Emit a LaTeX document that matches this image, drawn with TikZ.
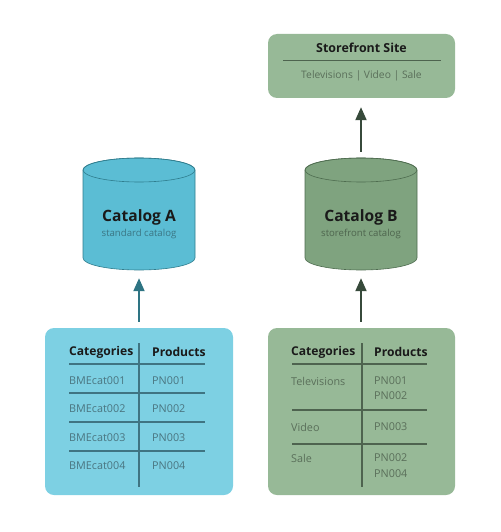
\documentclass[tikz,border=0pt]{standalone}
\usepackage{fontspec}
\setmainfont{Open Sans}
\usetikzlibrary{arrows.meta}
\definecolor{blueTab}{HTML}{7DD0E3}
\definecolor{blueCyl}{HTML}{5BBDD4}
\definecolor{blueEdge}{HTML}{2F7D8E}
\definecolor{blueLine}{HTML}{3F7482}
\definecolor{blueTxt}{HTML}{4A7580}
\definecolor{blueSub}{HTML}{3B7684}
\definecolor{blueArr}{HTML}{2E7483}
\definecolor{greenTab}{HTML}{97B997}
\definecolor{greenCyl}{HTML}{7FA37F}
\definecolor{greenEdge}{HTML}{4E6C4F}
\definecolor{greenLine}{HTML}{4E634F}
\definecolor{greenTxt}{HTML}{5A6F5A}
\definecolor{greenSub}{HTML}{4E654E}
\definecolor{greenArr}{HTML}{374A3B}
\definecolor{headTxt}{HTML}{1A1A1A}
\begin{document}
\begin{tikzpicture}[x=1pt,y=-1pt,
  panel/.style={rounded corners=9pt, minimum width=#1, inner sep=0pt},
  hdr/.style={font=\bfseries\fontsize{12.1}{14}\selectfont, text=headTxt, anchor=west, inner sep=0pt},
  bluecell/.style={font=\fontsize{10.8}{12}\selectfont, text=blueTxt, anchor=west, inner sep=0pt},
  greencell/.style={font=\fontsize{10.8}{12}\selectfont, text=greenTxt, anchor=west, inner sep=0pt},
  cyltitle/.style={font=\bfseries\fontsize{15.6}{18}\selectfont, text=headTxt, inner sep=0pt},
  cylsub/.style={font=\fontsize{9.6}{11}\selectfont, inner sep=0pt},
  uparrow/.style={line width=2pt, -{Triangle[width=11pt,length=13pt]}},
  tline/.style={line width=1.4pt}
]
\useasboundingbox (0,0) rectangle (500,532);

% ---------- Storefront site ----------
\node[panel=187pt, minimum height=64pt, fill=greenTab] (site) at (361.5,66) {};
\node[font=\bfseries\fontsize{12.4}{14}\selectfont, text=headTxt, inner sep=0pt] (sitetitle) at (361.5,47.5) {Storefront Site};
\draw[line width=1pt, greenLine] (283,61) -- (441,61);
\node[font=\fontsize{10.3}{12}\selectfont, text=greenTxt, inner sep=0pt] (sitecats) at (361.5,76) {Televisions | Video | Sale};

% ---------- Catalog A cylinder ----------
\node[minimum width=112pt, minimum height=112pt, inner sep=0pt] (catA) at (139,214) {};
\path[fill=blueCyl, draw=blueEdge, line width=0.6pt]
  (83,170) -- (83,258) arc[start angle=180, end angle=360, x radius=56, y radius=-12]
  -- (195,170) arc[start angle=0, end angle=180, x radius=56, y radius=-12] -- cycle;
\draw[blueEdge, line width=0.6pt] (139,170) ellipse[x radius=56, y radius=12];
\node[cyltitle] (catAt) at (139,217) {Catalog A};
\node[cylsub, text=blueSub] (catAs) at (139,234) {standard catalog};

% ---------- Catalog B cylinder ----------
\node[minimum width=112pt, minimum height=112pt, inner sep=0pt] (catB) at (361,214) {};
\path[fill=greenCyl, draw=greenEdge, line width=0.6pt]
  (305,170) -- (305,258) arc[start angle=180, end angle=360, x radius=56, y radius=-12]
  -- (417,170) arc[start angle=0, end angle=180, x radius=56, y radius=-12] -- cycle;
\draw[greenEdge, line width=0.6pt] (361,170) ellipse[x radius=56, y radius=12];
\node[cyltitle] (catBt) at (361,217) {Catalog B};
\node[cylsub, text=greenSub] (catBs) at (361,234) {storefront catalog};

% ---------- Table A ----------
\node[panel=188pt, minimum height=167pt, fill=blueTab] (tabA) at (139,411.5) {};
\draw[tline, blueLine] (139,343) -- (139,487);
\draw[tline, blueLine] (69,364) -- (205,364);
\draw[tline, blueLine] (69,393) -- (205,393);
\draw[tline, blueLine] (69,422) -- (205,422);
\draw[tline, blueLine] (69,451) -- (205,451);
\node[hdr] (aHc) at (69,352) {Categories};
\node[hdr] (aHp) at (152,352) {Products};
\node[bluecell] (a1c) at (69,381) {BMEcat001};
\node[bluecell] (a1p) at (152,381) {PN001};
\node[bluecell] (a2c) at (69,409) {BMEcat002};
\node[bluecell] (a2p) at (152,409) {PN002};
\node[bluecell] (a3c) at (69,438) {BMEcat003};
\node[bluecell] (a3p) at (152,438) {PN003};
\node[bluecell] (a4c) at (69,466) {BMEcat004};
\node[bluecell] (a4p) at (152,466) {PN004};

% ---------- Table B ----------
\node[panel=187pt, minimum height=167pt, fill=greenTab] (tabB) at (361.5,411.5) {};
\draw[tline, greenLine] (362,343) -- (362,487);
\draw[tline, greenLine] (292,364) -- (427,364);
\draw[tline, greenLine] (292,410) -- (427,410);
\draw[tline, greenLine] (292,444) -- (427,444);
\node[hdr] (bHc) at (291,352) {Categories};
\node[hdr] (bHp) at (374,352) {Products};
\node[greencell] (b1c) at (291,381) {Televisions};
\node[greencell] (b1p) at (374,381) {PN001};
\node[greencell] (b1q) at (374,396) {PN002};
\node[greencell] (b2c) at (291,427) {Video};
\node[greencell] (b2p) at (374,427) {PN003};
\node[greencell] (b3c) at (291,458) {Sale};
\node[greencell] (b3p) at (374,458) {PN002};
\node[greencell] (b3q) at (374,474) {PN004};

% ---------- Arrows ----------
\draw[uparrow, blueArr, shorten <=6pt, shorten >=8pt] (tabA.north) -- (catA.south);
\draw[uparrow, greenArr, shorten <=6pt, shorten >=8pt] (tabB.north -| catB.south) -- (catB.south);
\draw[uparrow, greenArr, shorten <=6pt, shorten >=9pt] (catB.north) -- (catB.north |- site.south);
\end{tikzpicture}
\end{document}
